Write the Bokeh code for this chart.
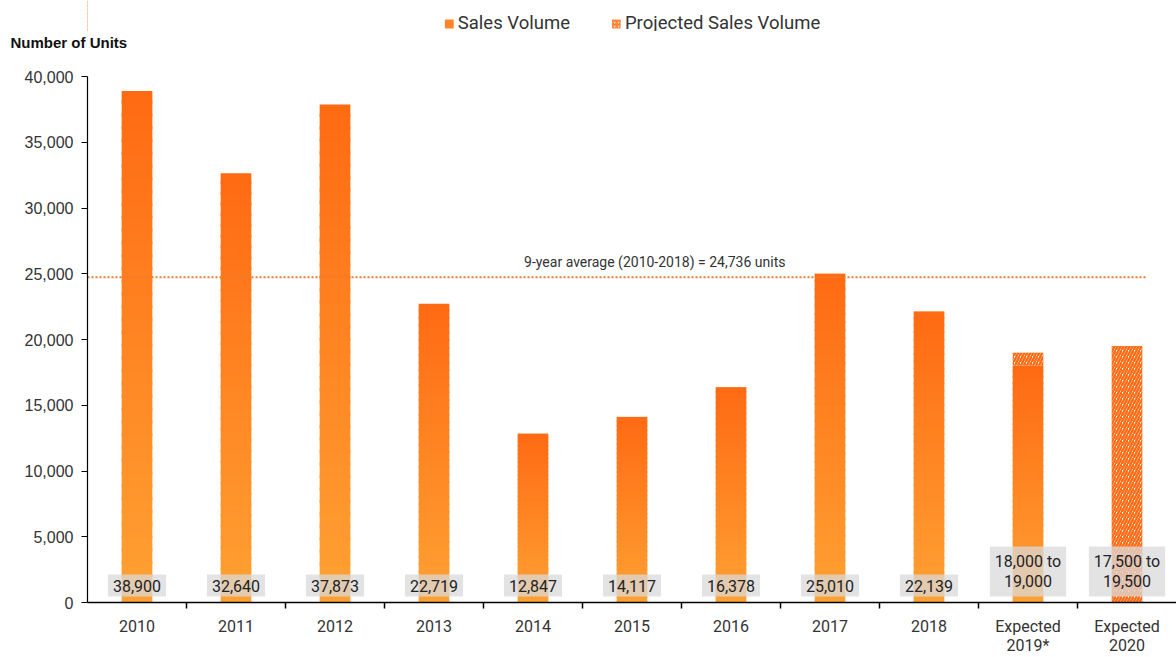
from bokeh.plotting import figure
from bokeh.layouts import column
from bokeh.models import (Range1d, FixedTicker, NumeralTickFormatter, ColumnDataSource,
                          Label, Legend, LegendItem)
from bokeh.core.properties import value
from bokeh.embed import file_html
from bokeh.resources import INLINE

# ---------------- data ----------------
categories = ["2010", "2011", "2012", "2013", "2014", "2015", "2016", "2017", "2018",
              "Expected\n2019*", "Expected\n2020"]
sales_volume = [38900, 32640, 37873, 22719, 12847, 14117, 16378, 25010, 22139, 18000, 0]
projected_low = [0, 0, 0, 0, 0, 0, 0, 0, 0, 18000, 0]
projected_high = [0, 0, 0, 0, 0, 0, 0, 0, 0, 19000, 19500]
value_labels = ["38,900", "32,640", "37,873", "22,719", "12,847", "14,117", "16,378",
                "25,010", "22,139", "18,000 to\n19,000", "17,500 to\n19,500"]
average_units = 24736
average_text = "9-year average (2010-2018) = 24,736 units"
y_ticks = [0, 5000, 10000, 15000, 20000, 25000, 30000, 35000, 40000]
series_names = ["Sales Volume", "Projected Sales Volume"]
y_title = "Number of Units"

# ---------------- style ----------------
TOP_RGB = (255, 106, 19)
BOTTOM_RGB = (255, 161, 51)
HATCH_COLOR = "#FF6A13"
TEXT_COLOR = "#333333"
BAR_W = 0.31
N_SLICES = 40
W = 1176
HEAD_H = 50
MAIN_H = 657 - HEAD_H

xs = list(range(len(categories)))

# gradient bars (stacked thin slices of each bar)
gx, gb, gt, gc = [], [], [], []
for i, v in zip(xs, sales_volume):
    if v <= 0:
        continue
    for k in range(N_SLICES):
        t = (k + 0.5) / N_SLICES
        c = tuple(int(round(b + (a - b) * t)) for a, b in zip(TOP_RGB, BOTTOM_RGB))
        gx.append(i)
        gb.append(v * k / N_SLICES)
        gt.append(min(v, v * (k + 1) / N_SLICES + v * 0.006))
        gc.append("#%02x%02x%02x" % c)
grad_src = ColumnDataSource(dict(x=gx, bottom=gb, top=gt, color=gc))

px = [i for i in xs if projected_high[i] > projected_low[i]]
proj_src = ColumnDataSource(dict(x=px, bottom=[projected_low[i] for i in px],
                                 top=[projected_high[i] for i in px]))

lab_src = ColumnDataSource(dict(x=xs, y=[0] * len(xs), text=value_labels))

# ---------------- header (legend + axis title) ----------------
head = figure(width=W, height=HEAD_H, x_range=Range1d(0, 1), y_range=Range1d(0, 1),
              output_backend="svg", toolbar_location=None,
              x_axis_location=None, y_axis_location=None,
              title_location="below",
              min_border_left=0, min_border_right=0, min_border_top=0, min_border_bottom=0)
head.outline_line_color = None
head.center = []  # no grids in the header strip
head.title.text = y_title
head.title.align = "left"
head.title.offset = -77
head.title.standoff = 0
head.title.text_font = "Liberation Sans"
head.title.text_font_style = "bold"
head.title.text_font_size = "15px"
head.title.text_color = "#111111"

# legend swatches (kept outside the visible range; they only feed the legend)
h_sales = head.vbar(x=[-10], top=[1], bottom=[0], width=1, fill_color="#FF8628",
                    line_color=None)
h_proj = head.vbar(x=[-10], top=[1], bottom=[0], width=1, fill_color="white",
                   hatch_pattern="/", hatch_color=HATCH_COLOR, hatch_scale=4,
                   hatch_weight=1.5, line_color=None)
legend = Legend(items=[LegendItem(label=series_names[0], renderers=[h_sales]),
                       LegendItem(label=series_names[1], renderers=[h_proj])],
                orientation="horizontal", location="top_center", margin=12,
                glyph_width=11, glyph_height=11, label_standoff=4, spacing=40,
                padding=0, border_line_color=None, background_fill_alpha=0,
                label_text_font="Roboto", label_text_font_size="18.5px",
                label_text_color=TEXT_COLOR, label_height=20)
head.add_layout(legend)

# ---------------- main chart ----------------
p = figure(width=W, height=MAIN_H, x_range=Range1d(-0.5, 10.5), y_range=Range1d(0, 40000),
           output_backend="svg", toolbar_location=None,
           min_border_left=87, min_border_right=0, min_border_top=26, min_border_bottom=0)
p.outline_line_color = None
p.xgrid.grid_line_color = None
p.ygrid.grid_line_color = None
p.background_fill_color = "white"
p.border_fill_color = "white"

p.vbar(x="x", bottom="bottom", top="top", width=BAR_W, fill_color="color",
       line_color=None, source=grad_src)
p.vbar(x="x", bottom="bottom", top="top", width=BAR_W, fill_color="white",
       hatch_pattern="/", hatch_color=HATCH_COLOR, hatch_scale=6, hatch_weight=2.4,
       line_color=None, source=proj_src)

# average line
p.line(x=[-0.5, len(categories) - 0.8], y=[average_units, average_units],
       line_color="#F07A2E", line_width=2, line_dash="2 2")
p.add_layout(Label(x=5.23, y=average_units, y_offset=7, text=average_text,
                   text_align="center", text_baseline="bottom",
                   text_font="Roboto", text_font_size="14px", text_color=TEXT_COLOR))

# value labels in grey boxes
p.text(x="x", y="y", text="text", source=lab_src, y_offset=-6,
       text_align="center", text_baseline="bottom",
       text_font=value("Roboto"), text_font_size="16px", text_color="#222222",
       text_line_height=1.1, padding=5,
       background_fill_color="#DADADA", background_fill_alpha=0.75)

# axes
ya = p.yaxis[0]
ya.ticker = FixedTicker(ticks=y_ticks)
ya.formatter = NumeralTickFormatter(format="0,0")
ya.axis_line_color = "black"
ya.axis_line_width = 1.2
ya.major_tick_line_color = "black"
ya.major_tick_out = 6
ya.major_tick_in = 0
ya.minor_tick_line_color = None
ya.major_label_standoff = 8
ya.major_label_text_font = "Liberation Sans"
ya.major_label_text_font_size = "16px"
ya.major_label_text_color = TEXT_COLOR

xa = p.xaxis[0]
xa.ticker = FixedTicker(ticks=xs, minor_ticks=[i + 0.5 for i in xs[:-1]])
xa.major_label_overrides = {i: c for i, c in zip(xs, categories)}
xa.axis_line_color = "black"
xa.axis_line_width = 1.6
xa.major_tick_line_color = None
xa.major_tick_out = 0
xa.major_tick_in = 0
xa.minor_tick_line_color = "black"
xa.minor_tick_line_width = 1.5
xa.minor_tick_out = 6
xa.minor_tick_in = 0
xa.major_label_standoff = 8
xa.major_label_text_font = "Roboto"
xa.major_label_text_font_size = "16px"
xa.major_label_text_color = TEXT_COLOR
xa.major_label_text_line_height = 1.0

layout = column(head, p, spacing=0)
open("out.html", "w").write(file_html(layout, INLINE))
